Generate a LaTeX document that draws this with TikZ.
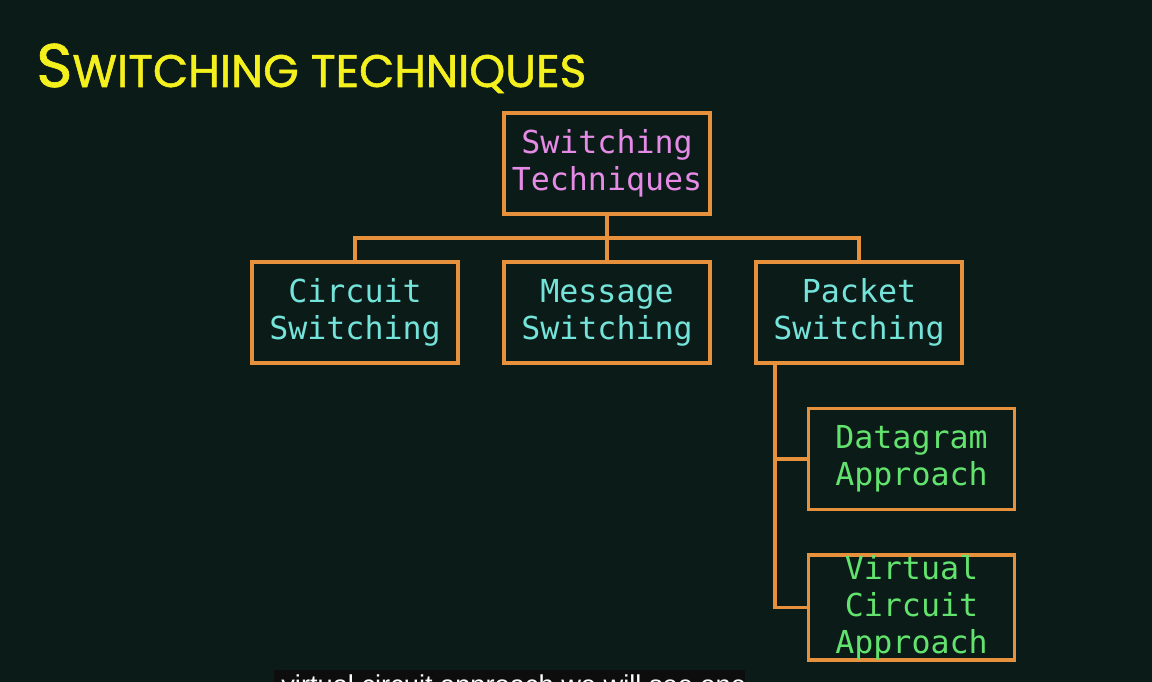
\documentclass[tikz,border=0pt]{standalone}
\usepackage{fontspec}
\setmonofont{DejaVu Sans Mono}
\newfontfamily\titlefont[FakeBold=1.2]{Poppins}
\newfontfamily\capfont{Liberation Sans}
\usetikzlibrary{positioning}

\definecolor{board}{HTML}{0B1B18}
\definecolor{frame}{HTML}{E8913C}
\definecolor{chalkpink}{HTML}{E58BE6}
\definecolor{chalkcyan}{HTML}{74E3D9}
\definecolor{chalkgreen}{HTML}{62E36E}
\definecolor{chalkyellow}{HTML}{F4F01E}

\begin{document}
\begin{tikzpicture}[
  x=0.02cm, y=-0.02cm,
  box/.style={draw=frame, line width=0.075cm, minimum width=4.12cm,
    minimum height=2.02cm, inner sep=0pt, align=center,
    font=\ttfamily\fontsize{18}{21}\selectfont},
  link/.style={draw=frame, line width=0.075cm}
]
  \fill[board] (0,0) rectangle (1152,682);
  \useasboundingbox (0,0) rectangle (1152,682);
  \clip (0,0) rectangle (1152,682);

  % title
  \node[anchor=base west, inner sep=0pt, text=chalkyellow] (title) at (36,87)
    {\titlefont\fontsize{35}{35}\selectfont S\fontsize{26}{26}\selectfont WITCHING TECHNIQUES};

  % boxes
  \node[box, text=chalkpink] (root) at (607,163.5) {Switching\\Techniques};
  \node[box, text=chalkcyan] (circ) at (355,312.5) {Circuit\\Switching};
  \node[box, text=chalkcyan] (mess) at (607,312.5) {Message\\Switching};
  \node[box, text=chalkcyan] (pack) at (859,312.5) {Packet\\Switching};
  \node[box, text=chalkgreen] (data) at (911.5,459) {Datagram\\Approach};
  \node[box, text=chalkgreen] (virt) at (911.5,607.5) {Virtual\\Circuit\\Approach};

  % connectors
  \coordinate (bus) at (607,238);
  \coordinate (trunk) at (775,365);
  \draw[link] (root.south) -- (bus);
  \draw[link] (circ.north) |- (bus) -| (pack.north);
  \draw[link] (bus) -- (mess.north);
  \draw[link] (trunk) |- (virt.west);
  \draw[link] (trunk |- data.west) -- (data.west);

  % caption bar
  \fill[black!95] (274,670) rectangle (745,700);
  \node[anchor=base west, inner sep=0pt, text=white] (caption) at (281,694)
    {\capfont\fontsize{15.5}{15.5}\selectfont virtual circuit approach we will see one};
\end{tikzpicture}
\end{document}
